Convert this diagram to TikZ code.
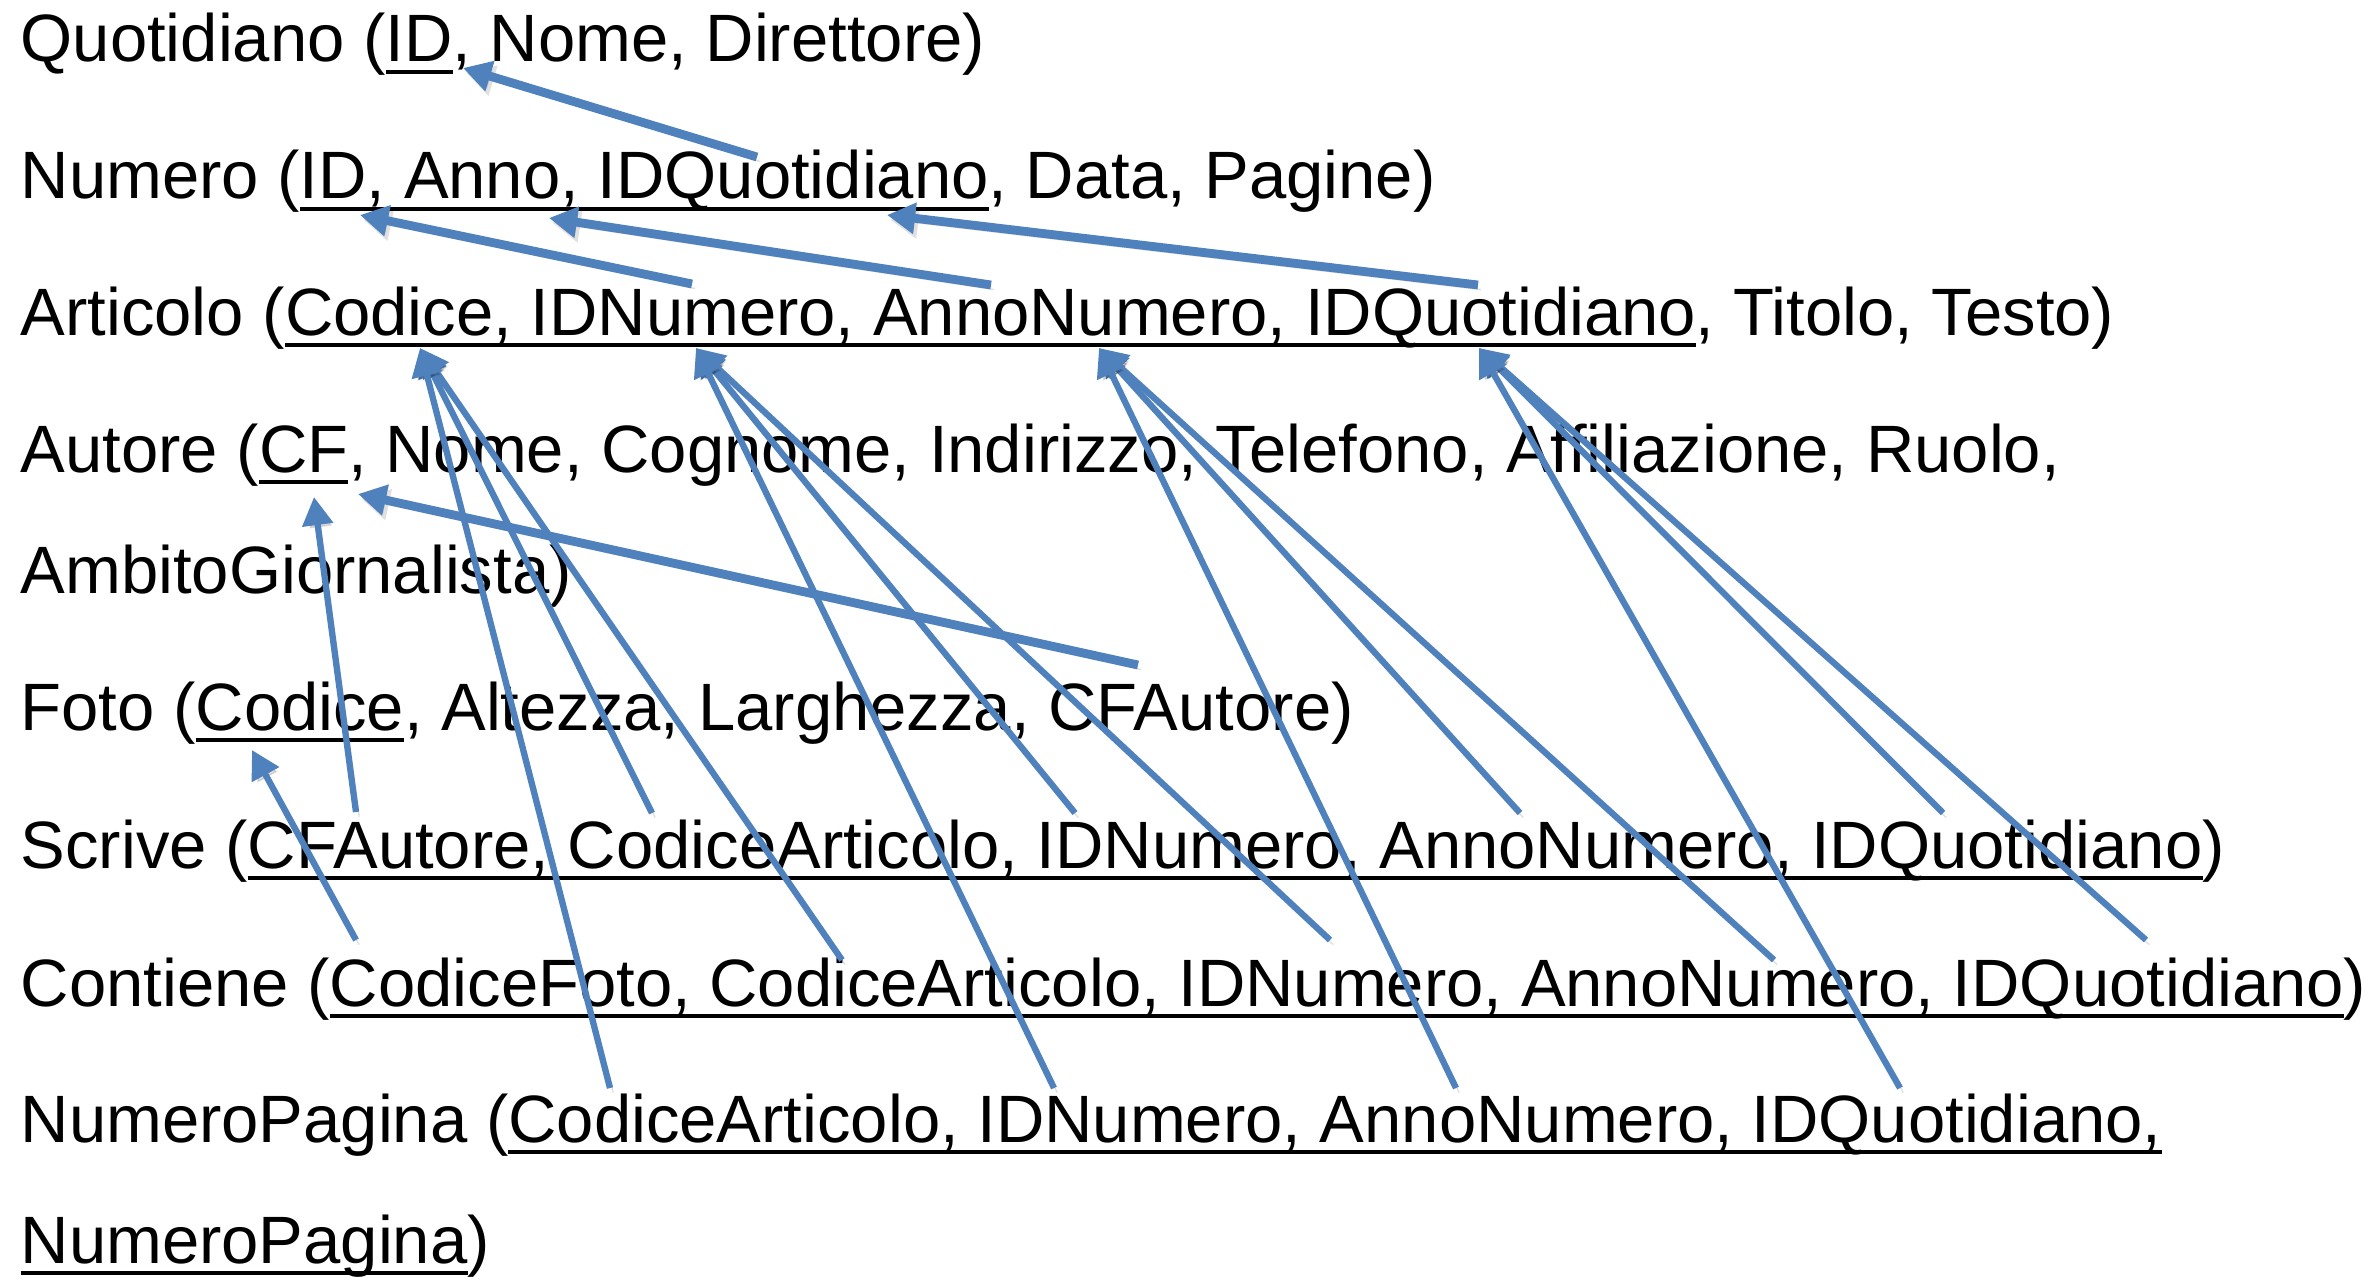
\documentclass[tikz,border=0pt]{standalone}
\usepackage{fontspec}
\setmainfont{Liberation Sans}[Ligatures=CommonOff]
\usetikzlibrary{arrows.meta}
\definecolor{blu}{HTML}{4F81BD}
\newcommand\chiave[1]{\setbox0\hbox{#1}\rlap{\rule[-0.172em]{\wd0}{0.06em}}\box0}
\tikzset{
    riga/.style={anchor=base west, inner sep=0pt, font=\fontsize{19.05}{23}\selectfont},
    rif/.style={draw=blu, line width=1.8pt, -{Triangle[length=8pt,width=8.5pt]},
        preaction={draw=black, opacity=0.12, transform canvas={shift={(0.9pt,-1.3pt)}}}},
    rifgrosso/.style={rif, line width=2.5pt},
}
\begin{document}
\begin{tikzpicture}[x=0.01cm, y=-0.01cm]
        \useasboundingbox (0,0) rectangle (2373,1282);
        \node[riga] (quot) at (20,62) {Quotidiano (\chiave{ID}, Nome, Direttore)};
        \node[riga] (num) at (20,199) {Numero (\chiave{ID, Anno, IDQuotidiano}, Data, Pagine)};
        \node[riga] (art) at (20,335) {Articolo (\chiave{Codice, IDNumero, AnnoNumero, IDQuotidiano}, Titolo, Testo)};
        \node[riga] (aut) at (20,472) {Autore (\chiave{CF}, Nome, Cognome, Indirizzo, Telefono, Affiliazione, Ruolo,};
        \node[riga] (aut2) at (20,593) {AmbitoGiornalista)};
        \node[riga] (foto) at (20,730) {Foto (\chiave{Codice}, Altezza, Larghezza, CFAutore)};
        \node[riga] (scr) at (20,868) {Scrive (\chiave{CFAutore, CodiceArticolo, IDNumero, AnnoNumero, IDQuotidiano})};
        \node[riga] (cont) at (20,1006) {Contiene (\chiave{CodiceFoto, CodiceArticolo, IDNumero, AnnoNumero, IDQuotidiano})};
        \node[riga] (np) at (20,1142) {NumeroPagina (\chiave{CodiceArticolo, IDNumero, AnnoNumero, IDQuotidiano,}};
        \node[riga] (np2) at (20,1263) {\chiave{NumeroPagina})};

        \coordinate (quotID) at (463,68);
        \coordinate (numID) at (360,215);
        \coordinate (numAnno) at (549,218);
        \coordinate (numIDQ) at (887,215);
        \coordinate (numIDQs) at (757,157);
        \coordinate (artCod) at (420,348);
        \coordinate (artIDN) at (696,348);
        \coordinate (artAnno) at (1099,348);
        \coordinate (artIDQ) at (1479,348);
        \coordinate (artIDNs) at (692,284);
        \coordinate (artAnnos) at (991,285);
        \coordinate (artIDQs) at (1478,285);
        \coordinate (autCF) at (314,497);
        \coordinate (autCFb) at (358,494);
        \coordinate (fotoCod) at (252,750);
        \coordinate (fotoCF) at (1138,665);
        \coordinate (scrCF) at (356,812);
        \coordinate (scrCod) at (652,813);
        \coordinate (scrIDN) at (1075,813);
        \coordinate (scrAnno) at (1520,813);
        \coordinate (scrIDQ) at (1943,813);
        \coordinate (contFoto) at (356,940);
        \coordinate (contCod) at (842,960);
        \coordinate (contIDN) at (1330,940);
        \coordinate (contAnno) at (1774,960);
        \coordinate (contIDQ) at (2146,940);
        \coordinate (npCod) at (610,1088);
        \coordinate (npIDN) at (1054,1088);
        \coordinate (npAnno) at (1456,1088);
        \coordinate (npIDQ) at (1900,1088);

        \draw[rifgrosso] (numIDQs) -- (quotID);
        \draw[rifgrosso] (artIDNs) -- (numID);
        \draw[rifgrosso] (artAnnos) -- (numAnno);
        \draw[rifgrosso] (artIDQs) -- (numIDQ);
        \draw[rifgrosso] (fotoCF) -- (autCFb);
        \draw[rif] (scrCF) -- (autCF);
        \draw[rif] (contFoto) -- (fotoCod);
        \draw[rif] (scrCod) -- (artCod);
        \draw[rif] (contCod) -- (artCod);
        \draw[rif] (npCod) -- (artCod);
        \draw[rif] (scrIDN) -- (artIDN);
        \draw[rif] (contIDN) -- (artIDN);
        \draw[rif] (npIDN) -- (artIDN);
        \draw[rif] (scrAnno) -- (artAnno);
        \draw[rif] (contAnno) -- (artAnno);
        \draw[rif] (npAnno) -- (artAnno);
        \draw[rif] (scrIDQ) -- (artIDQ);
        \draw[rif] (contIDQ) -- (artIDQ);
        \draw[rif] (npIDQ) -- (artIDQ);
    \end{tikzpicture}
\end{document}
